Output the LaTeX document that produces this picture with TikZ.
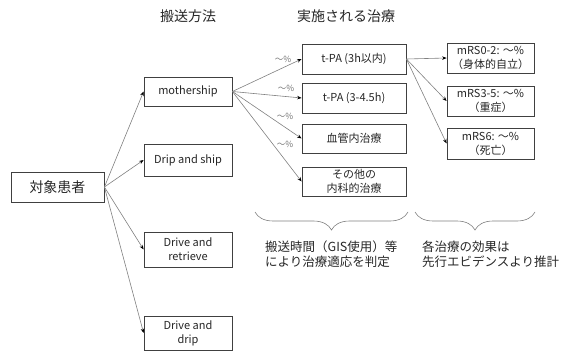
\documentclass[tikz,border=0pt]{standalone}
\usepackage{fontspec}
\setmainfont{Noto Sans CJK JP}
\usetikzlibrary{arrows.meta,decorations.pathreplacing}
\definecolor{boxline}{HTML}{404040}
\definecolor{arrline}{HTML}{808080}
\definecolor{labgray}{HTML}{707070}
\begin{document}
\begin{tikzpicture}[x=1pt,y=-1pt,
  box/.style={draw=boxline,line width=0.8pt,rectangle,inner sep=1pt,align=center,font=\fontsize{11}{14}\selectfont,text=black!85},
  conn/.style={draw=arrline,line width=0.6pt,-{Stealth[length=4.5pt,width=3.5pt,color=black]}},
  pct/.style={font=\fontsize{8.5}{9}\selectfont,text=labgray,inner sep=0pt},
  head/.style={font=\fontsize{14}{16}\selectfont,text=black!85},
  note/.style={font=\fontsize{12.5}{15}\selectfont,text=black!85,align=left,anchor=north west,inner sep=0pt},
  brc/.style={draw=arrline,line width=0.6pt,decorate,decoration={brace,mirror,amplitude=18pt,aspect=0.5}}]
\useasboundingbox (0,0) rectangle (563,353);
% headers
\node[head] (h1) at (188,16) {搬送方法};
\node[head] (h2) at (346,16) {実施される治療};
% patient
\node[box,minimum width=93pt,minimum height=30pt,font=\fontsize{14}{16}\selectfont] (pt) at (57.5,187) {対象患者};
% transport
\node[box,minimum width=88pt,minimum height=29pt] (ms) at (188,91.5) {mothership};
\node[box,minimum width=88pt,minimum height=32pt] (ds) at (188,160) {Drip and ship};
\node[box,minimum width=88pt,minimum height=35pt] (dr) at (188,249.5) {Drive and\\retrieve};
\node[box,minimum width=88pt,minimum height=34pt] (dd) at (188,333) {Drive and\\drip};
% treatments
\node[box,minimum width=104pt,minimum height=30pt] (t1) at (354,59) {t-PA (3h以内)};
\node[box,minimum width=104pt,minimum height=30pt] (t2) at (354,98) {t-PA (3-4.5h)};
\node[box,minimum width=104pt,minimum height=29pt] (t3) at (354,138.5) {血管内治療};
\node[box,minimum width=104pt,minimum height=29pt] (t4) at (354,181.5) {その他の\\内科的治療};
% outcomes
\node[box,minimum width=87pt,minimum height=30pt] (m1) at (490.5,58) {mRS0-2: ～\%\\（身体的自立）};
\node[box,minimum width=87pt,minimum height=30pt] (m2) at (490.5,101) {mRS3-5: ～\%\\（重症）};
\node[box,minimum width=87pt,minimum height=31pt] (m3) at (490.5,143.5) {mRS6: ～\%\\（死亡）};
% connectors
\draw[conn] (pt.east) -- (ms.west);
\draw[conn] (pt.east) -- (ds.west);
\draw[conn] (pt.east) -- (dr.west);
\draw[conn] (pt.east) -- (dd.west);
\draw[conn] (ms.east) -- (t1.west);
\draw[conn] (ms.east) -- (t2.west);
\draw[conn] (ms.east) -- (t3.west);
\draw[conn] (ms.east) -- (t4.west);
\draw[conn] (t1.east) -- (m1.west);
\draw[conn] (t1.east) -- (m2.west);
\draw[conn] (t1.east) -- (m3.west);
% percentage labels
\node[pct] (p1) at (283,59) {～\%};
\node[pct] (p2) at (286,88) {～\%};
\node[pct] (p3) at (285,116) {～\%};
\node[pct] (p4) at (285,144) {～\%};
% braces
\coordinate (b1a) at (255,212);
\coordinate (b1b) at (408,212);
\coordinate (b2a) at (415,212);
\coordinate (b2b) at (535,212);
\draw[brc] (b1a) -- (b1b);
\draw[brc] (b2a) -- (b2b);
% notes
\node[note] (n1) at (265,241) {搬送時間（GIS使用）等\\により治療適応を判定};
\node[note] (n2) at (422,241) {各治療の効果は\\先行エビデンスより推計};
\end{tikzpicture}
\end{document}
